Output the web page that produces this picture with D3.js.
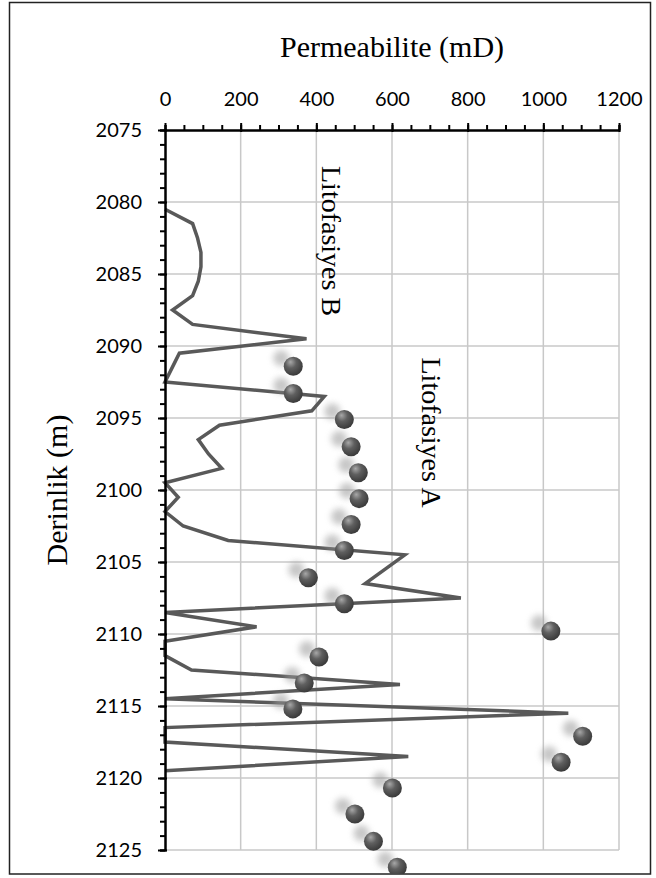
<!DOCTYPE html>
<html>
<head>
<meta charset="utf-8">
<script src="https://cdn.jsdelivr.net/npm/d3@7"></script>
<style>
  body { margin: 0; background: #fff; }
</style>
</head>
<body>
<div id="chart"></div>
<script>
// permeability log (line), one value per metre
const lineDepth = [2080.5, 2081.5, 2082.5, 2083.5, 2084.5, 2085.5, 2086.5, 2087.5, 2088.5, 2089.5,
  2090.5, 2091.5, 2092.5, 2093.5, 2094.5, 2095.5, 2096.5, 2097.5, 2098.5, 2099.5,
  2100.5, 2101.5, 2102.5, 2103.5, 2104.5, 2105.5, 2106.5, 2107.5, 2108.5, 2109.5,
  2110.5, 2111.5, 2112.5, 2113.5, 2114.5, 2115.5, 2116.5, 2117.5, 2118.5, 2119.5];
const linePerm = [0, 73, 86, 95, 95, 88, 73, 20, 73, 374,
  38, 19, 0, 421, 388, 144, 88, 115, 150, 0,
  35, 0, 48, 167, 634, 582, 529, 782, 0, 242,
  0, 0, 70, 621, 0, 1066, 0, 0, 643, 0];

// core samples (spheres)
const pointDepth = [2091.4, 2093.3, 2095.1, 2097.0, 2098.8, 2100.6, 2102.4, 2104.2, 2106.1, 2107.9,
  2109.8, 2111.6, 2113.4, 2115.2, 2117.1, 2118.9, 2120.7, 2122.5, 2124.4, 2126.2, 2128.0];
const pointPerm = [339, 339, 474, 492, 511, 513, 492, 474, 379, 474,
  1020, 407, 368, 338, 1104, 1047, 601, 502, 551, 614, 320];

const xTicks = [0, 200, 400, 600, 800, 1000, 1200];
const yTicks = [2075, 2080, 2085, 2090, 2095, 2100, 2105, 2110, 2115, 2120, 2125];

const W = 656, H = 878;
const svg = d3.select('#chart').append('svg')
    .attr('width', W).attr('height', H);

const defs = svg.append('defs');
const grad = defs.append('radialGradient')
    .attr('id', 'ball').attr('cx', '40%').attr('cy', '35%').attr('r', '65%')
    .attr('fx', '35%').attr('fy', '28%');
grad.append('stop').attr('offset', '0%').attr('stop-color', '#a8a8a8');
grad.append('stop').attr('offset', '45%').attr('stop-color', '#5f5f5f');
grad.append('stop').attr('offset', '100%').attr('stop-color', '#3a3a3a');
defs.append('filter').attr('id', 'blur')
    .attr('x', '-100%').attr('y', '-100%').attr('width', '300%').attr('height', '300%')
  .append('feGaussianBlur').attr('stdDeviation', 3);
defs.append('clipPath').attr('id', 'frame')
  .append('rect').attr('x', 10).attr('y', 2).attr('width', 641).attr('height', 872);

// chart frame
svg.append('rect')
    .attr('x', 9.5).attr('y', 2.5).attr('width', 641).attr('height', 871.5)
    .attr('fill', 'none').attr('stroke', '#222').attr('stroke-width', 1.5);

const x = d3.scaleLinear().domain([0, 1200]).range([165, 619]);
const y = d3.scaleLinear().domain([2075, 2125]).range([130, 850]);

// gridlines
svg.append('g').selectAll('line')
    .data(xTicks.slice(1))
    .join('line')
    .attr('x1', d => x(d)).attr('x2', d => x(d))
    .attr('y1', y(2075)).attr('y2', y(2125))
    .attr('stroke', '#c8c8c8').attr('stroke-width', 1.5);
svg.append('g').selectAll('line')
    .data(yTicks.slice(1))
    .join('line')
    .attr('y1', d => y(d)).attr('y2', d => y(d))
    .attr('x1', x(0)).attr('x2', x(1200))
    .attr('stroke', '#c8c8c8').attr('stroke-width', 1.5);

// annotations
const serif = "'Liberation Serif', 'Times New Roman', serif";
svg.append('text')
    .attr('transform', `translate(${x(415)},${y(2077.5)}) rotate(90)`)
    .attr('font-family', serif)
    .attr('font-size', 28).attr('fill', '#000')
    .text('Litofasiyes B');
svg.append('text')
    .attr('transform', `translate(${x(680)},${y(2090.8)}) rotate(90)`)
    .attr('font-family', serif)
    .attr('font-size', 28).attr('fill', '#000')
    .text('Litofasiyes A');

// permeability line
const line = d3.line()
    .x((d, i) => x(linePerm[i]))
    .y(d => y(d));
svg.append('path')
    .datum(lineDepth)
    .attr('d', line)
    .attr('fill', 'none')
    .attr('stroke', '#595959')
    .attr('stroke-width', 3.5)
    .attr('stroke-linejoin', 'miter');

// spheres with soft shadows
const pts = svg.append('g').attr('clip-path', 'url(#frame)');
pts.selectAll('.shadow')
    .data(pointDepth)
    .join('circle')
    .attr('class', 'shadow')
    .attr('cx', (d, i) => x(pointPerm[i]) - 12)
    .attr('cy', d => y(d) - 8)
    .attr('r', 8)
    .attr('fill', '#9a9a9a')
    .attr('opacity', 0.55)
    .attr('filter', 'url(#blur)');
pts.selectAll('.ball')
    .data(pointDepth)
    .join('circle')
    .attr('class', 'ball')
    .attr('cx', (d, i) => x(pointPerm[i]))
    .attr('cy', d => y(d))
    .attr('r', 9.5)
    .attr('fill', 'url(#ball)');

// axes
const tickFont = "Lato, Carlito, Calibri, sans-serif";
const xMinor = svg.append('g')
    .attr('transform', `translate(0,${y(2075)})`)
    .call(d3.axisTop(x).tickValues(d3.range(0, 1201, 50)).tickSize(5).tickFormat(''));
const xAxis = svg.append('g')
    .attr('transform', `translate(0,${y(2075)})`)
    .call(d3.axisTop(x).tickValues(xTicks).tickSizeInner(7).tickSizeOuter(0).tickPadding(17)
      .tickFormat(d3.format('d')));
xAxis.selectAll('.tick line').attr('y1', 2);

const yMinor = svg.append('g')
    .attr('transform', `translate(${x(0)},0)`)
    .call(d3.axisLeft(y).tickValues(d3.range(2075, 2126, 1)).tickSize(5).tickFormat(''));
const yAxis = svg.append('g')
    .attr('transform', `translate(${x(0)},0)`)
    .call(d3.axisLeft(y).tickValues(yTicks).tickSizeInner(7).tickSizeOuter(0).tickPadding(16)
      .tickFormat(d3.format('d')));
yAxis.selectAll('.tick line').attr('x1', 2);

[xMinor, xAxis, yMinor, yAxis].forEach(g => {
  g.selectAll('path, line').attr('stroke', '#000').attr('stroke-width', 2);
  g.selectAll('text').attr('font-family', tickFont).attr('font-size', 20).attr('fill', '#000');
});

// axis titles
svg.append('text')
    .attr('x', (x(0) + x(1200)) / 2).attr('y', 57)
    .attr('text-anchor', 'middle')
    .attr('font-family', serif)
    .attr('font-size', 30)
    .text('Permeabilite (mD)');
svg.append('text')
    .attr('transform', `translate(67,${(y(2075) + y(2125)) / 2}) rotate(-90)`)
    .attr('text-anchor', 'middle')
    .attr('font-family', serif)
    .attr('font-size', 30)
    .text('Derinlik (m)');
</script>
</body>
</html>
